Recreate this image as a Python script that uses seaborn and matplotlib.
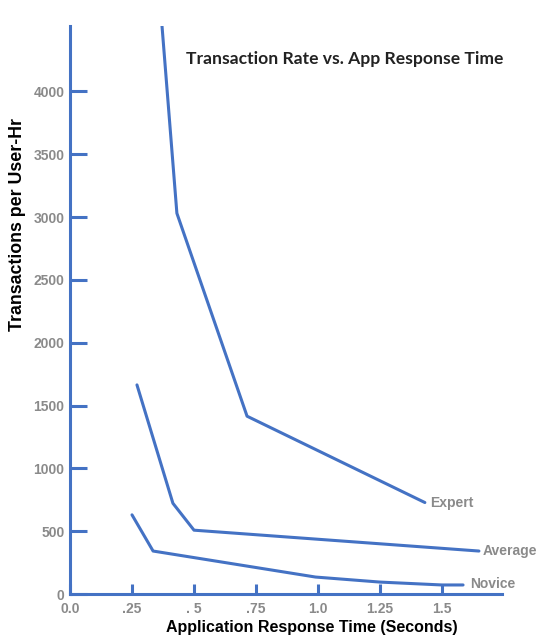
import pandas as pd
import matplotlib
matplotlib.use("Agg")
import matplotlib.pyplot as plt
import seaborn as sns

# values
expert_x = [0.371, 0.431, 0.714, 1.431]
expert_y = [4520, 3030, 1415, 728]
average_x = [0.27, 0.415, 0.5, 1.649]
average_y = [1664, 722, 508, 342]
novice_x = [0.25, 0.335, 0.99, 1.25, 1.5, 1.585]
novice_y = [630, 342, 135, 95, 72, 72]

x_ticks = [0.0, 0.25, 0.5, 0.75, 1.0, 1.25, 1.5]
x_ticklabels = ["0.0", ".25", ". 5", ".75", "1.0", "1.25", "1.5"]
y_ticks = [0, 500, 1000, 1500, 2000, 2500, 3000, 3500, 4000]

blue = "#4472C4"
grey = "#8a8a8a"

df = pd.concat([
    pd.DataFrame({"x": expert_x, "y": expert_y, "level": "Expert"}),
    pd.DataFrame({"x": average_x, "y": average_y, "level": "Average"}),
    pd.DataFrame({"x": novice_x, "y": novice_y, "level": "Novice"}),
])

sns.set_style("white")
plt.rcParams['font.family'] = ['Liberation Sans', 'DejaVu Sans']

fig = plt.figure(figsize=(5.41, 6.39), dpi=100)
ax = fig.add_axes([0.1294, 0.0704, 0.7985, 0.8889])

sns.lineplot(data=df, x="x", y="y", hue="level", sort=False, estimator=None,
             palette=[blue, blue, blue], linewidth=2.2, legend=False, ax=ax)

ax.set_xlim(0, 1.742)
ax.set_ylim(0, 4520)
ax.set_xticks(x_ticks)
ax.set_xticklabels(x_ticklabels)
ax.set_yticks(y_ticks)

for side in ["top", "right"]:
    ax.spines[side].set_visible(False)
for side in ["left", "bottom"]:
    ax.spines[side].set_color(blue)
    ax.spines[side].set_linewidth(2.2)

ax.tick_params(axis="y", direction="in", length=12, width=2.2, color=blue,
               labelcolor=grey, labelsize=10, pad=4, left=True)
ax.tick_params(axis="x", direction="in", length=7, width=2.2, color=blue,
               labelcolor=grey, labelsize=10, pad=6, bottom=True)
for lab in ax.get_xticklabels() + ax.get_yticklabels():
    lab.set_fontweight("bold")

ax.set_xlabel("Application Response Time (Seconds)", fontsize=11.5,
              fontweight="bold", color="black")
ax.set_ylabel("Transactions per User-Hr", fontsize=12.8,
              fontweight="bold", color="black")
ax.xaxis.set_label_coords(0.559, -0.046)
ax.yaxis.set_label_coords(-0.102, 0.65)

# series names at line ends
ax.text(1.452, 728, "Expert", color=grey, fontsize=10, fontweight="bold", va="center")
ax.text(1.665, 342, "Average", color=grey, fontsize=10, fontweight="bold", va="center")
ax.text(1.613, 80, "Novice", color=grey, fontsize=10, fontweight="bold", va="center")

ax.text(0.637, 0.942, "Transaction Rate vs. App Response Time", transform=ax.transAxes,
        fontsize=12.6, fontweight="bold", color="#222222", ha="center", va="center",
        family=["Lato", "DejaVu Sans"])

fig.savefig("out.png", dpi=100)
